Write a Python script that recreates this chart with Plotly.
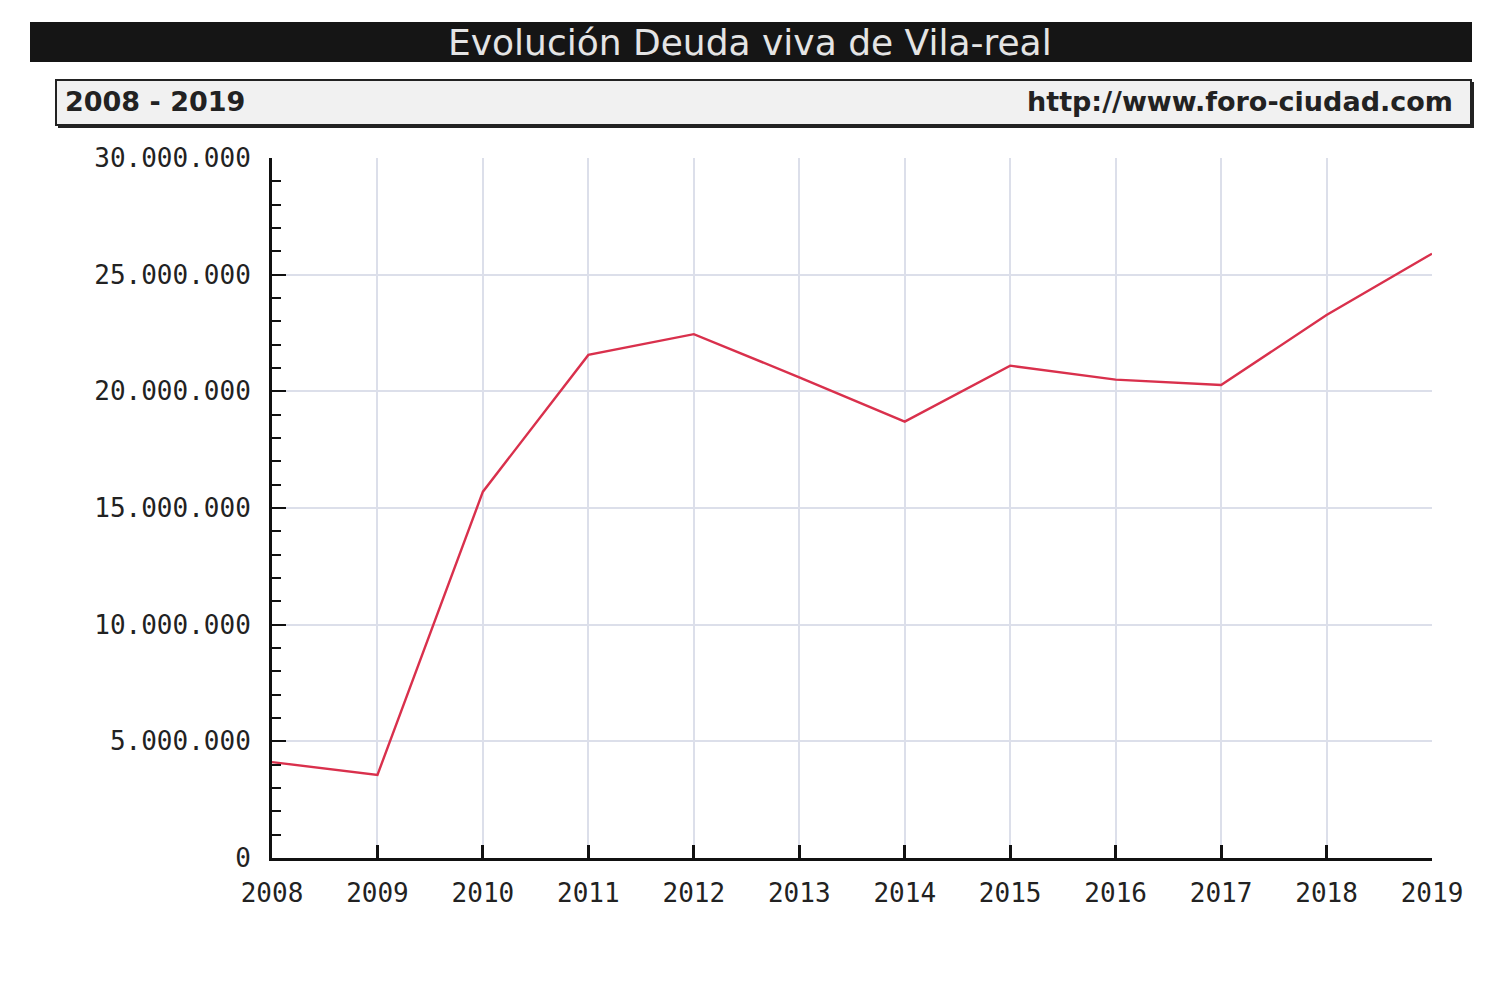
import plotly.graph_objects as go

years = [2008, 2009, 2010, 2011, 2012, 2013, 2014, 2015, 2016, 2017, 2018, 2019]
deuda = [4110000, 3560000, 15700000, 21560000, 22450000, 20600000, 18700000,
         21100000, 20500000, 20270000, 23270000, 25900000]
y_ticks = [0, 5000000, 10000000, 15000000, 20000000, 25000000, 30000000]

title_text = "Evolución Deuda viva de Vila-real"
period_text = "2008 - 2019"
source_text = "http://www.foro-ciudad.com"

OFF = 8  # page body margin
W, H = 1485 - 2 * OFF, 1003 - 2 * OFF
L, R, T, B = 272 - OFF, 1432 - OFF, 158 - OFF, 858 - OFF


def px(x):
    return (x - OFF - L) / (R - L)


def py(y):
    return (B - (y - OFF)) / (B - T)


fig = go.Figure()
fig.add_trace(go.Scatter(
    x=years, y=deuda, mode="lines",
    line=dict(color="#d9304c", width=2.4),
    hoverinfo="x+y", showlegend=False,
))

tick_font = dict(family="DejaVu Sans Mono", size=26, color="#222")

fig.update_layout(
    width=W, height=H,
    margin=dict(l=L, r=W - R, t=T, b=H - B, pad=0),
    paper_bgcolor="white", plot_bgcolor="white",
    separators=",.",
    xaxis=dict(
        range=[2008, 2019], tickvals=years, tickformat="d",
        showgrid=True, gridcolor="#dcdfea", gridwidth=1.5,
        showline=True, linecolor="#111", linewidth=3,
        ticks="inside", ticklen=13, tickwidth=3, tickcolor="#111",
        tickfont=tick_font, ticklabelstandoff=10, zeroline=False,
        fixedrange=True,
    ),
    yaxis=dict(
        range=[0, 30000000], tickvals=y_ticks, tickformat=",d",
        showgrid=True, gridcolor="#dcdfea", gridwidth=1.5,
        showline=True, linecolor="#111", linewidth=3,
        ticks="inside", ticklen=14, tickwidth=2, tickcolor="#111",
        minor=dict(dtick=1000000, ticks="inside", ticklen=9, tickwidth=2,
                   tickcolor="#111", showgrid=False),
        tickfont=tick_font, ticklabelstandoff=13, zeroline=False,
        fixedrange=True,
    ),
    shapes=[
        # title bar
        dict(type="rect", xref="paper", yref="paper",
             x0=px(30), x1=px(1472), y0=py(62), y1=py(22),
             fillcolor="#151515", line=dict(width=0), layer="below"),
        # subtitle box shadow
        dict(type="rect", xref="paper", yref="paper",
             x0=px(58), x1=px(1474), y0=py(128), y1=py(82),
             fillcolor="#222", line=dict(width=0), layer="below"),
        # subtitle box
        dict(type="rect", xref="paper", yref="paper",
             x0=px(56), x1=px(1471), y0=py(125), y1=py(80),
             fillcolor="#f1f1f1", line=dict(color="#222", width=2), layer="below"),
    ],
    annotations=[
        dict(text=title_text, xref="paper", yref="paper",
             x=px(750), y=py(42), xanchor="center", yanchor="middle",
             showarrow=False,
             font=dict(family="DejaVu Sans", size=36, color="#e4e4e4")),
        dict(text="<b>" + period_text + "</b>", xref="paper", yref="paper",
             x=px(63), y=py(102), xanchor="left", yanchor="middle",
             showarrow=False,
             font=dict(family="DejaVu Sans", size=27, color="#222")),
        dict(text="<b>" + source_text + "</b>", xref="paper", yref="paper",
             x=px(1455), y=py(102), xanchor="right", yanchor="middle",
             showarrow=False,
             font=dict(family="DejaVu Sans", size=27, color="#222")),
    ],
)

fig.write_html("out.html")
